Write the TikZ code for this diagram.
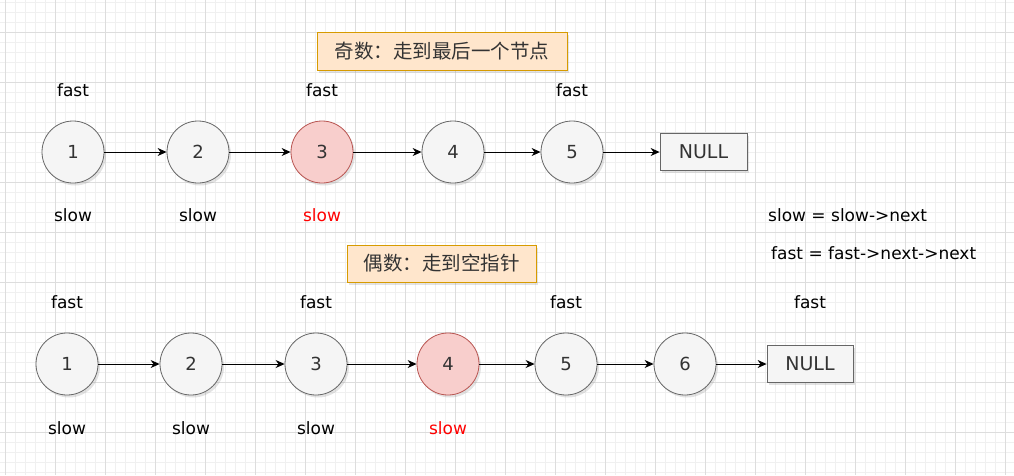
\documentclass[tikz,border=0pt]{standalone}
\usepackage{fontspec}
\setmainfont{DejaVu Sans}
\newfontfamily\cjk{Noto Sans CJK SC}
\usetikzlibrary{arrows.meta,shadows}
\definecolor{gminor}{HTML}{F0F0F0}
\definecolor{gmajor}{HTML}{DDDDDD}
\definecolor{nfill}{HTML}{F5F5F5}
\definecolor{ndraw}{HTML}{666666}
\definecolor{ntext}{HTML}{333333}
\definecolor{rfill}{HTML}{F8CECC}
\definecolor{rdraw}{HTML}{B85450}
\definecolor{ofill}{HTML}{FFE6CC}
\definecolor{odraw}{HTML}{D79B00}
\definecolor{redtext}{HTML}{FF0000}
\tikzset{
  shad/.style={drop shadow={opacity=0.22,shadow xshift=2pt,shadow yshift=-2.5pt}},
  listnode/.style={circle,minimum size=62pt,inner sep=0pt,fill=nfill,draw=ndraw,line width=0.8pt,text=ntext,font=\fontsize{18}{21}\selectfont,shad},
  hotnode/.style={listnode,fill=rfill,draw=rdraw},
  nullbox/.style={rectangle,inner sep=0pt,fill=nfill,draw=ndraw,line width=0.8pt,text=ntext,font=\fontsize{19}{22}\selectfont,shad},
  titlebox/.style={rectangle,inner sep=0pt,fill=ofill,draw=odraw,line width=0.8pt,text=ntext,font=\cjk\fontsize{19.5}{22}\selectfont,shad},
  lbl/.style={font=\fontsize{17}{20}\selectfont,text=black,inner sep=0pt},
  redlbl/.style={lbl,text=redtext},
  link/.style={-{Stealth[length=9pt,width=8pt]},line width=0.9pt,black},
  gridminor/.style={gminor,line width=0.6pt},
  gridmajor/.style={gmajor,line width=0.8pt}
}
\begin{document}
\begin{tikzpicture}[x=1pt,y=-1pt]
\useasboundingbox (0,0) rectangle (1014,475);
\fill[white] (0,0) rectangle (1014,475);
% grid
\foreach \i in {0,...,101} { \draw[gridminor] ({5+10*\i},0) -- ({5+10*\i},475); }
\foreach \j in {0,...,47} { \draw[gridminor] (0,{2+10*\j}) -- (1014,{2+10*\j}); }
\foreach \i in {0,...,20} { \draw[gridmajor] ({5+50*\i},0) -- ({5+50*\i},475); }
\foreach \j in {0,...,9} { \draw[gridmajor] (0,{32+50*\j}) -- (1014,{32+50*\j}); }

% top title
\node[titlebox,minimum width=250pt,minimum height=38pt] (t1) at (442,51) {奇数：走到最后一个节点};
% top row
\node[listnode] (a1) at (73,152) {1};
\node[listnode] (a2) at (198,152) {2};
\node[hotnode]  (a3) at (322,152) {3};
\node[listnode] (a4) at (453,152) {4};
\node[listnode] (a5) at (572,152) {5};
\node[nullbox,minimum width=87pt,minimum height=37pt] (an) at (703.5,152) {NULL};
\draw[link] (a1) -- (a2);
\draw[link] (a2) -- (a3);
\draw[link] (a3) -- (a4);
\draw[link] (a4) -- (a5);
\draw[link] (a5) -- (an);
\node[lbl] (af1) at (73,90) {fast};
\node[lbl] (af3) at (322,90) {fast};
\node[lbl] (af5) at (572,90) {fast};
\node[lbl] (as1) at (73,215) {slow};
\node[lbl] (as2) at (198,215) {slow};
\node[redlbl] (as3) at (322,215) {slow};

% formulas
\node[lbl,anchor=west] (f1) at (768,215) {slow = slow->next};
\node[lbl,anchor=west] (f2) at (771,253) {fast = fast->next->next};

% bottom title
\node[titlebox,minimum width=189pt,minimum height=37pt] (t2) at (441.5,263.5) {偶数：走到空指针};
% bottom row
\node[listnode] (b1) at (67,364) {1};
\node[listnode] (b2) at (191,364) {2};
\node[listnode] (b3) at (316,364) {3};
\node[hotnode]  (b4) at (448,364) {4};
\node[listnode] (b5) at (566,364) {5};
\node[listnode] (b6) at (685,364) {6};
\node[nullbox,minimum width=86pt,minimum height=37pt] (bn) at (810,364) {NULL};
\draw[link] (b1) -- (b2);
\draw[link] (b2) -- (b3);
\draw[link] (b3) -- (b4);
\draw[link] (b4) -- (b5);
\draw[link] (b5) -- (b6);
\draw[link] (b6) -- (bn);
\node[lbl] (bf1) at (67,302) {fast};
\node[lbl] (bf3) at (316,302) {fast};
\node[lbl] (bf5) at (566,302) {fast};
\node[lbl] (bf7) at (810,302) {fast};
\node[lbl] (bs1) at (67,428) {slow};
\node[lbl] (bs2) at (191,428) {slow};
\node[lbl] (bs3) at (316,428) {slow};
\node[redlbl] (bs4) at (448,428) {slow};
\end{tikzpicture}
\end{document}
